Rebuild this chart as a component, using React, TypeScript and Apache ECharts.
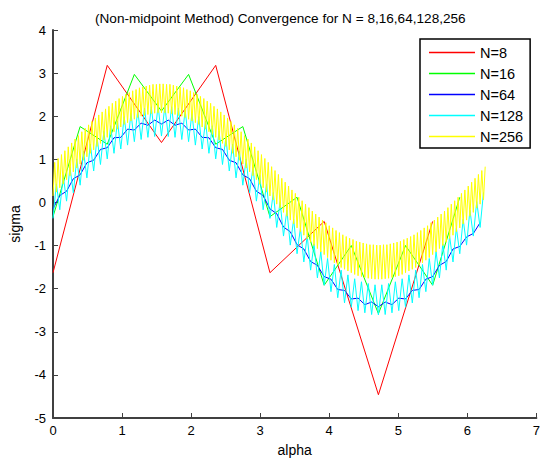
import React, { useEffect, useRef } from "react";
import * as echarts from "echarts";

const titleText = "(Non-midpoint Method) Convergence for N = 8,16,64,128,256";
const xTicks = [0, 1, 2, 3, 4, 5, 6, 7];
const yTicks = [-5, -4, -3, -2, -1, 0, 1, 2, 3, 4];
const seriesNames = ["N=8", "N=16", "N=64", "N=128", "N=256"];
const seriesColors = ["#ff0000", "#00ff00", "#0000ff", "#00ffff", "#ffff00"];

const sigmaN8 = [-1.63, 3.18, 1.39, 3.18, -1.63, -0.44, -4.46, -0.44];

const sigmaN16 = [
  -0.33, 1.76, 1.35, 2.97, 2.12, 2.97, 1.35, 1.76,
  -0.33, 0.12, -1.92, -1.0, -2.58, -1.0, -1.92, 0.12,
];

const sigmaN64 = [
  -0.15, 0.16, 0.26, 0.55, 0.64, 0.92, 0.98, 1.23, 1.27, 1.5, 1.51, 1.7, 1.68, 1.84, 1.79, 1.91,
  1.82, 1.91, 1.79, 1.84, 1.68, 1.7, 1.51, 1.5, 1.27, 1.23, 0.98, 0.92, 0.64, 0.55, 0.26, 0.16,
  -0.15, -0.26, -0.57, -0.68, -0.98, -1.08, -1.37, -1.46, -1.72, -1.78, -2.02, -2.04, -2.24, -2.22, -2.37, -2.31,
  -2.42, -2.31, -2.37, -2.22, -2.24, -2.04, -2.02, -1.78, -1.72, -1.46, -1.37, -1.08, -1.02, -0.8, -0.72, -0.47,
];

const sigmaN128 = [
  -0.37, 0.43, -0.17, 0.63, 0.03, 0.82, 0.22, 1.01, 0.4, 1.19, 0.57, 1.35, 0.73, 1.51, 0.88, 1.65,
  1.01, 1.78, 1.14, 1.89, 1.24, 1.99, 1.33, 2.07, 1.41, 2.14, 1.46, 2.19, 1.51, 2.22, 1.53, 2.24,
  1.54, 2.24, 1.53, 2.22, 1.51, 2.19, 1.46, 2.14, 1.41, 2.07, 1.33, 1.99, 1.24, 1.89, 1.14, 1.78,
  1.01, 1.65, 0.88, 1.51, 0.73, 1.35, 0.57, 1.19, 0.4, 1.01, 0.22, 0.82, 0.03, 0.63, -0.17, 0.43,
  -0.37, 0.23, -0.58, 0.02, -0.78, -0.18, -0.99, -0.39, -1.19, -0.59, -1.38, -0.78, -1.57, -0.96, -1.75, -1.14,
  -1.92, -1.3, -2.07, -1.44, -2.21, -1.57, -2.33, -1.68, -2.43, -1.77, -2.51, -1.84, -2.56, -1.88, -2.6, -1.91,
  -2.61, -1.91, -2.6, -1.88, -2.56, -1.84, -2.51, -1.77, -2.43, -1.68, -2.33, -1.57, -2.21, -1.44, -2.07, -1.3,
  -1.92, -1.14, -1.75, -0.96, -1.57, -0.78, -1.38, -0.59, -1.19, -0.39, -0.99, -0.18, -0.78, 0.02, -0.58, 0.23,
];

const sigmaN256 = [
  0.15, 0.93, 0.24, 1.02, 0.34, 1.11, 0.43, 1.2, 0.53, 1.29, 0.62, 1.38, 0.71, 1.47, 0.8, 1.55,
  0.89, 1.64, 0.98, 1.72, 1.06, 1.8, 1.14, 1.88, 1.22, 1.96, 1.3, 2.03, 1.37, 2.1, 1.45, 2.17,
  1.51, 2.23, 1.58, 2.3, 1.64, 2.35, 1.7, 2.41, 1.75, 2.46, 1.81, 2.51, 1.85, 2.55, 1.89, 2.59,
  1.93, 2.62, 1.97, 2.66, 2.0, 2.68, 2.02, 2.7, 2.04, 2.72, 2.06, 2.74, 2.07, 2.74, 2.08, 2.75,
  2.08, 2.75, 2.08, 2.74, 2.07, 2.74, 2.06, 2.72, 2.04, 2.7, 2.02, 2.68, 2.0, 2.66, 1.97, 2.62,
  1.93, 2.59, 1.89, 2.55, 1.85, 2.51, 1.81, 2.46, 1.75, 2.41, 1.7, 2.35, 1.64, 2.3, 1.58, 2.23,
  1.51, 2.17, 1.45, 2.1, 1.37, 2.03, 1.3, 1.96, 1.22, 1.88, 1.14, 1.8, 1.06, 1.72, 0.98, 1.64,
  0.89, 1.55, 0.8, 1.47, 0.71, 1.38, 0.62, 1.29, 0.53, 1.2, 0.43, 1.11, 0.34, 1.02, 0.24, 0.93,
  0.15, 0.83, 0.06, 0.74, -0.04, 0.65, -0.13, 0.56, -0.23, 0.47, -0.32, 0.38, -0.41, 0.29, -0.5, 0.21,
  -0.59, 0.12, -0.68, 0.04, -0.76, -0.04, -0.84, -0.12, -0.92, -0.2, -1.0, -0.27, -1.07, -0.34, -1.15, -0.41,
  -1.21, -0.47, -1.28, -0.54, -1.34, -0.59, -1.4, -0.65, -1.45, -0.7, -1.51, -0.75, -1.55, -0.79, -1.59, -0.83,
  -1.63, -0.86, -1.67, -0.9, -1.7, -0.92, -1.72, -0.94, -1.74, -0.96, -1.76, -0.98, -1.77, -0.98, -1.78, -0.99,
  -1.78, -0.99, -1.78, -0.98, -1.77, -0.98, -1.76, -0.96, -1.74, -0.94, -1.72, -0.92, -1.7, -0.9, -1.67, -0.86,
  -1.63, -0.83, -1.59, -0.79, -1.55, -0.75, -1.51, -0.7, -1.45, -0.65, -1.4, -0.59, -1.34, -0.54, -1.28, -0.47,
  -1.21, -0.41, -1.15, -0.34, -1.07, -0.27, -1.0, -0.2, -0.92, -0.12, -0.84, -0.04, -0.76, 0.04, -0.68, 0.12,
  -0.59, 0.21, -0.5, 0.29, -0.41, 0.38, -0.32, 0.47, -0.23, 0.56, -0.13, 0.65, -0.04, 0.74, 0.06, 0.83,
];

const allSeries = [sigmaN8, sigmaN16, sigmaN64, sigmaN128, sigmaN256];

const FONT = "'Liberation Sans', Arial, Helvetica, sans-serif";
const AXIS_COLOR = "#404040";

function toPoints(values: number[]): [number, number][] {
  const n = values.length;
  return values.map((v, k) => [(2 * Math.PI * k) / n, v]);
}

export default function App() {
  const ref = useRef<HTMLDivElement>(null);

  useEffect(() => {
    if (!ref.current) return;
    const chart = echarts.init(ref.current, undefined, { renderer: "svg" });
    const option: any = {
      animation: false,
      backgroundColor: "#ffffff",
      title: {
        text: titleText,
        left: 90,
        top: 6,
        textStyle: { fontFamily: FONT, fontSize: 13.6, fontWeight: "normal", color: "#000" },
      },
      legend: {
        orient: "vertical",
        left: 420,
        top: 39,
        data: seriesNames,
        icon: "rect",
        itemWidth: 46,
        itemHeight: 1.5,
        itemGap: 6,
        padding: [6, 7, 4, 9],
        backgroundColor: "#ffffff",
        borderColor: "#000000",
        borderWidth: 1.5,
        borderRadius: 0,
        textStyle: { fontFamily: FONT, fontSize: 14.5, color: "#000" },
      },
      grid: { left: 49.5, right: 3, top: 30, bottom: 42, containLabel: false },
      xAxis: {
        type: "value",
        min: xTicks[0],
        max: xTicks[xTicks.length - 1],
        interval: 1,
        name: "alpha",
        nameLocation: "middle",
        nameGap: 25,
        nameTextStyle: { fontFamily: FONT, fontSize: 14, color: "#000" },
        axisLine: { show: true, onZero: false, lineStyle: { color: AXIS_COLOR, width: 2 } },
        axisTick: { show: true, inside: true, length: 5, lineStyle: { color: AXIS_COLOR, width: 1 } },
        axisLabel: { fontFamily: FONT, fontSize: 13, color: "#000", margin: 6 },
        splitLine: { show: false },
      },
      yAxis: {
        type: "value",
        min: yTicks[0],
        max: yTicks[yTicks.length - 1],
        interval: 1,
        name: "sigma",
        nameLocation: "middle",
        nameGap: 31,
        nameTextStyle: { fontFamily: FONT, fontSize: 14, color: "#000" },
        axisLine: { show: true, onZero: false, lineStyle: { color: AXIS_COLOR, width: 2 } },
        axisTick: { show: true, inside: true, length: 5, lineStyle: { color: AXIS_COLOR, width: 1 } },
        axisLabel: { fontFamily: FONT, fontSize: 13, color: "#000", margin: 7 },
        splitLine: { show: false },
      },
      series: allSeries.map((vals, i) => ({
        name: seriesNames[i],
        type: "line",
        data: toPoints(vals),
        symbol: "none",
        showSymbol: false,
        lineStyle: { color: seriesColors[i], width: 1 },
        itemStyle: { color: seriesColors[i] },
        emphasis: { disabled: true },
      })),
    };
    chart.setOption(option);
    return () => chart.dispose();
  }, []);

  return (
    <div
      ref={ref}
      style={{ position: "absolute", left: 0, top: 0, width: 543, height: 462 }}
    />
  );
}
